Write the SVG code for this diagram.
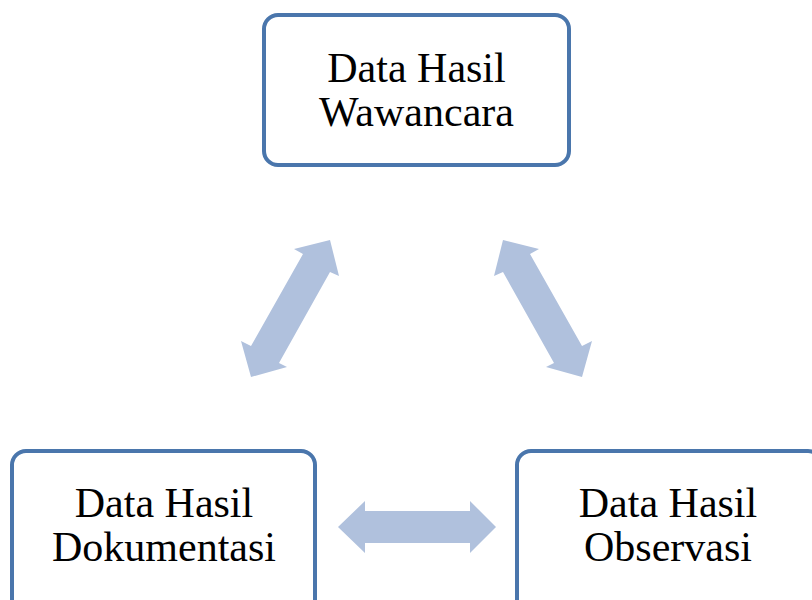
<svg xmlns="http://www.w3.org/2000/svg" width="812" height="600" viewBox="0 0 812 600">
<style>
.box{fill:#fff;stroke:#4A76AC;stroke-width:4}
.lbl{font-family:"Liberation Serif","Times New Roman",serif;font-size:42px;fill:#000;text-anchor:middle}
.arr{fill:#B0C1DD;stroke:none}
</style>
<rect width="812" height="600" fill="#fff"/>
<g id="connectors">
<polygon class="arr" points="330,240 339,276 330,272 279,363 287,367 251,377 241,341 251,346 303,254 294,249"/>
<polygon class="arr" points="503,240 494,276 503,272 554,363 546,367 582,377 592,341 582,346 530,254 539,249"/>
<polygon class="arr" points="338,527 365,501 365,511 470,511 470,501 496,527 470,553 470,543 365,543 365,553"/>
</g>
<g id="wawancara">
<rect class="box" x="264" y="15" width="305" height="150" rx="14"/>
<text class="lbl" x="416.5" y="82">Data Hasil</text>
<text class="lbl" x="416.5" y="126">Wawancara</text>
</g>
<g id="dokumentasi">
<rect class="box" x="12" y="451" width="303" height="170" rx="14"/>
<text class="lbl" x="164" y="517">Data Hasil</text>
<text class="lbl" x="164" y="561">Dokumentasi</text>
</g>
<g id="observasi">
<rect class="box" x="517" y="451" width="305" height="170" rx="14"/>
<text class="lbl" x="668" y="517">Data Hasil</text>
<text class="lbl" x="668" y="561">Observasi</text>
</g>
</svg>
